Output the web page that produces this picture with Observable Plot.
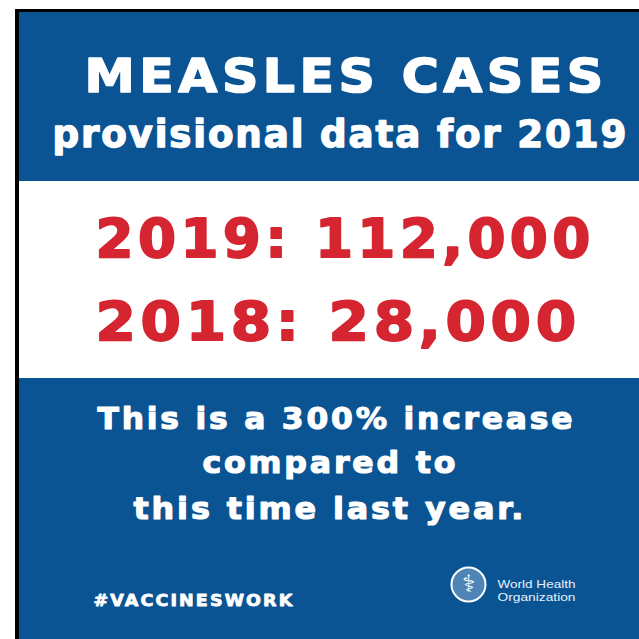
<!DOCTYPE html>
<html>
<head>
<meta charset="utf-8">
<script src="https://cdn.jsdelivr.net/npm/d3@7"></script>
<script src="https://cdn.jsdelivr.net/npm/@observablehq/plot@0.6"></script>
<style>
  html, body { margin: 0; padding: 0; background: #ffffff; }
  #chart { width: 639px; height: 639px; }
  svg { display: block; }
</style>
</head>
<body>
<div id="chart"></div>
<script>
// ---- Data ----
const title = "MEASLES CASES";
const subtitle = "provisional data for 2019";
const years = [2019, 2018];
const cases = [112000, 28000];
const increasePct = 300;
const bodyLines = [`This is a ${increasePct}% increase`, "compared to", "this time last year."];
const hashtag = "#VACCINESWORK";
const orgLines = ["World Health", "Organization"];

// ---- Layout / style (kept separate from the data) ----
const W = 639, H = 639;
const BLUE = "#0a5494", RED = "#d52530", WHITE = "#ffffff";
const FONT = "DejaVu Sans, sans-serif";
const frame = [{x1: 15, x2: W, y1: 9, y2: H, fill: "#000000"}];
const bands = [
  {x1: 19, x2: W, y1: 12, y2: 181, fill: BLUE},
  {x1: 19, x2: W, y1: 181, y2: 378, fill: WHITE},
  {x1: 19, x2: W, y1: 378, y2: H, fill: BLUE}
];
const caseText = years.map((yr, i) => `${yr}: ${d3.format(",")(cases[i])}`);

// x1/x2: left and right ink edges measured on the reference; ls: tracking in em
const texts = [
  {text: title,        x1: 84,  x2: 603, y: 91,  size: 47, ls: 0.09, fill: WHITE, sw: 1.6},
  {text: subtitle,     x1: 52,  x2: 626, y: 146, size: 37, ls: 0.05, fill: WHITE, sw: 1.4},
  {text: caseText[0],  x1: 95,  x2: 590, y: 256, size: 53, ls: 0.08, fill: RED,   sw: 1.8},
  {text: caseText[1],  x1: 95,  x2: 576, y: 339, size: 53, ls: 0.08, fill: RED,   sw: 1.8},
  {text: bodyLines[0], x1: 97,  x2: 572, y: 428, size: 31, ls: 0.09, fill: WHITE, sw: 1.2},
  {text: bodyLines[1], x1: 202, x2: 455, y: 472, size: 31, ls: 0.09, fill: WHITE, sw: 1.2},
  {text: bodyLines[2], x1: 133, x2: 523, y: 518, size: 31, ls: 0.09, fill: WHITE, sw: 1.2},
  {text: hashtag,      x1: 93,  x2: 292, y: 605, size: 16, ls: 0.12, fill: WHITE, sw: 0.8},
];
const orgTexts = [
  {text: orgLines[0], x1: 497, x2: 575, y: 587, size: 11, ls: 0},
  {text: orgLines[1], x1: 497, x2: 575, y: 600, size: 11, ls: 0}
];
const emblem = [{x: 468, y: 584}];

const plot = Plot.plot({
  width: W, height: H,
  margin: 0,
  x: {domain: [0, W], axis: null},
  y: {domain: [0, H], reverse: true, axis: null},
  style: {background: "transparent", fontFamily: FONT},
  marks: [
    Plot.rect(frame, {x1: "x1", x2: "x2", y1: "y1", y2: "y2", fill: "fill"}),
    Plot.rect(bands, {x1: "x1", x2: "x2", y1: "y1", y2: "y2", fill: "fill"}),
    ...texts.map(t => Plot.text([t], {
      x: "x1", y: "y", text: "text", fill: t.fill,
      stroke: t.fill, strokeWidth: t.sw, strokeLinejoin: "round",
      fontSize: t.size, fontWeight: "bold", fontFamily: FONT,
      textAnchor: "start", lineAnchor: "bottom"
    })),
    Plot.dot(emblem, {x: "x", y: "y", r: 17, fill: "#cfe3f5", fillOpacity: 0.35, stroke: WHITE, strokeWidth: 2}),
    Plot.text(emblem, {x: "x", y: "y", text: () => "⚕", fill: WHITE, fontSize: 24, fontFamily: FONT}),
    ...orgTexts.map(t => Plot.text([t], {
      x: "x1", y: "y", text: "text", fill: "#e8f2fb",
      fontSize: t.size, fontFamily: "Liberation Sans Narrow, Liberation Sans, sans-serif",
      textAnchor: "start", lineAnchor: "bottom"
    }))
  ]
});

// fit each line to the measured ink width of the reference (tracking + glyph stretch)
const spec = new Map([...texts, ...orgTexts].map(t => [t.text, t]));
plot.querySelectorAll("text").forEach(el => {
  const t = spec.get(el.textContent);
  if (t) {
    const trail = t.ls * t.size; // trailing tracking after the last glyph
    el.style.letterSpacing = `${t.ls}em`;
    el.setAttribute("textLength", (t.x2 - t.x1) + trail);
    el.setAttribute("lengthAdjust", "spacingAndGlyphs");
  }
});
document.getElementById("chart").appendChild(plot);
</script>
</body>
</html>
